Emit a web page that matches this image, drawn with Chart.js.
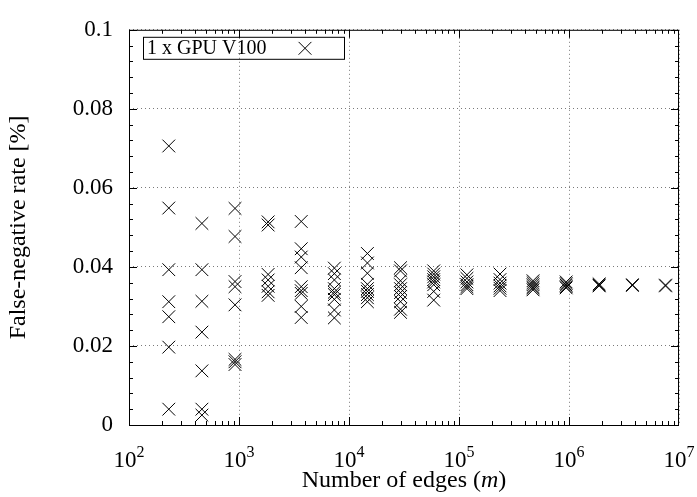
<!DOCTYPE html>
<html>
<head>
<meta charset="utf-8">
<script src="https://cdn.jsdelivr.net/npm/chart.js@4.4.0/dist/chart.umd.min.js"></script>
<style>
  html, body { margin: 0; padding: 0; background: #fff; }
  #wrap { width: 697px; height: 497px; }
</style>
</head>
<body>
<div id="wrap"><canvas id="chart"></canvas></div>
<script>
// Data
// ------------------------------------------------------------
const edgeCounts = [230, 460, 920, 1840, 3680, 7360, 14700, 29400, 58900,
                    118000, 236000, 471000, 942000, 1880000, 3770000, 7540000];

const rates = [
  [0.0706, 0.0549, 0.0393, 0.0312, 0.0274, 0.0197, 0.0040],
  [0.0510, 0.0393, 0.0313, 0.0235, 0.0137, 0.0040, 0.0025],
  [0.0548, 0.0477, 0.0363, 0.0350, 0.0304, 0.0166, 0.0160, 0.0153],
  [0.0514, 0.0506, 0.0381, 0.0367, 0.0351, 0.0337, 0.0328],
  [0.0515, 0.0446, 0.0425, 0.0398, 0.0350, 0.0340, 0.0333, 0.0300, 0.0272],
  [0.0397, 0.0383, 0.0367, 0.0345, 0.0336, 0.0330, 0.0318, 0.0291, 0.0271],
  [0.0434, 0.0410, 0.0384, 0.0356, 0.0345, 0.0338, 0.0330, 0.0322, 0.0312],
  [0.0398, 0.0390, 0.0365, 0.0355, 0.0345, 0.0335, 0.0325, 0.0312, 0.0293, 0.0285],
  [0.0390, 0.0382, 0.0375, 0.0368, 0.0362, 0.0355, 0.0338, 0.0316],
  [0.0380, 0.0371, 0.0362, 0.0355, 0.0350, 0.0345],
  [0.0382, 0.0368, 0.0359, 0.0352, 0.0346, 0.0340],
  [0.0365, 0.0360, 0.0355, 0.0350, 0.0346, 0.0342],
  [0.0362, 0.0358, 0.0354, 0.0350, 0.0347],
  [0.0357, 0.0354, 0.0352],
  [0.0355, 0.0353],
  [0.0354, 0.0352]
];

const xTickValues    = [1e2, 1e3, 1e4, 1e5, 1e6, 1e7];
const xTickExponents = ['2', '3', '4', '5', '6', '7'];
const yTickValues    = [0, 0.02, 0.04, 0.06, 0.08, 0.1];
const yTickLabels    = ['0', '0.02', '0.04', '0.06', '0.08', '0.1'];
const seriesLabel    = '1 x GPU V100';
const xTitleParts    = [['Number of edges (', false], ['m', true], [')', false]];

const FONT = '"Liberation Serif", "DejaVu Serif", serif';

const points = [];
edgeCounts.forEach((m, i) => rates[i].forEach(r => points.push({ x: m, y: r })));

// gnuplot-like frame: box, inward ticks, x labels with exponents, legend
// ------------------------------------------------------------
const frame = {
  id: 'frame',
  afterDraw(chart) {
    const { ctx, chartArea: a, scales: { x, y } } = chart;
    ctx.save();
    ctx.strokeStyle = '#000';
    ctx.lineWidth = 1;
    ctx.beginPath();

    const vtick = (v, len) => {
      const px = Math.round(x.getPixelForValue(v)) + 0.5;
      ctx.moveTo(px, a.bottom); ctx.lineTo(px, a.bottom - len);
      ctx.moveTo(px, a.top);    ctx.lineTo(px, a.top + len);
    };
    for (let e = 2; e < 7; e++) {
      for (let k = 1; k < 10; k++) vtick(k * Math.pow(10, e), k === 1 ? 8 : 4);
    }

    const htick = (v, len) => {
      const py = Math.round(y.getPixelForValue(v)) + 0.5;
      ctx.moveTo(a.left, py);  ctx.lineTo(a.left + len, py);
      ctx.moveTo(a.right, py); ctx.lineTo(a.right - len, py);
    };
    for (let i = 0; i <= 25; i++) htick(i * 0.004, i % 5 === 0 ? 8 : 4);
    ctx.stroke();

    ctx.strokeRect(a.left + 0.5, a.top + 0.5, a.right - a.left - 1, a.bottom - a.top);

    // x tick labels 10^n
    ctx.fillStyle = '#000';
    ctx.textBaseline = 'alphabetic';
    ctx.textAlign = 'left';
    xTickValues.forEach((v, i) => {
      const px = x.getPixelForValue(v);
      ctx.font = '23px ' + FONT;
      const w1 = ctx.measureText('10').width;
      ctx.font = '16px ' + FONT;
      const w2 = ctx.measureText(xTickExponents[i]).width;
      const x0 = px - (w1 + w2) / 2;
      ctx.font = '23px ' + FONT;
      ctx.fillText('10', x0, a.bottom + 42);
      ctx.font = '16px ' + FONT;
      ctx.fillText(xTickExponents[i], x0 + w1, a.bottom + 32);
    });

    // x title with italic m
    const fonts = xTitleParts.map(p => (p[1] ? 'italic ' : '') + '24px ' + FONT);
    const widths = xTitleParts.map((p, i) => { ctx.font = fonts[i]; return ctx.measureText(p[0]).width; });
    let tx = (a.left + a.right) / 2 - widths.reduce((s, w) => s + w, 0) / 2;
    xTitleParts.forEach((p, i) => {
      ctx.font = fonts[i];
      ctx.fillText(p[0], tx, chart.height - 10);
      tx += widths[i];
    });

    // legend box
    const lx = a.left + 14, ly = a.top + 7, lw = 201, lh = 22;
    ctx.strokeRect(lx + 0.5, ly + 0.5, lw, lh);
    ctx.font = '20px ' + FONT;
    ctx.textBaseline = 'middle';
    ctx.fillText(seriesLabel, lx + 4, ly + lh / 2 + 1);
    const cx = lx + 162, cy = ly + lh / 2 + 0.5, r = 6.4;
    ctx.beginPath();
    ctx.moveTo(cx - r, cy - r); ctx.lineTo(cx + r, cy + r);
    ctx.moveTo(cx - r, cy + r); ctx.lineTo(cx + r, cy - r);
    ctx.stroke();
    ctx.restore();
  }
};

new Chart(document.getElementById('chart'), {
  type: 'scatter',
  data: {
    datasets: [{
      label: seriesLabel,
      data: points,
      pointStyle: 'crossRot',
      pointRadius: 9,
      pointBorderWidth: 1,
      borderColor: '#000',
      backgroundColor: '#000'
    }]
  },
  options: {
    responsive: true,
    maintainAspectRatio: false,
    animation: false,
    layout: { padding: { top: 16, right: 18, left: 0, bottom: 0 } },
    plugins: {
      legend: { display: false },
      tooltip: { enabled: false }
    },
    scales: {
      x: {
        type: 'logarithmic',
        min: 1e2,
        max: 1e7,
        afterBuildTicks: s => { s.ticks = xTickValues.map(v => ({ value: v })); },
        afterFit: s => { s.height = 72; },
        ticks: { display: false },
        grid: { color: '#7a7a7a', lineWidth: 1, drawTicks: false },
        border: { display: false, dash: [1, 3] },
        title: { display: false }
      },
      y: {
        min: 0,
        max: 0.1,
        afterBuildTicks: s => { s.ticks = yTickValues.map(v => ({ value: v })); },
        afterFit: s => { s.width = 129; },
        ticks: {
          color: '#000',
          padding: 16,
          font: { family: FONT, size: 23 },
          callback: (v, i) => yTickLabels[i]
        },
        grid: { color: '#7a7a7a', lineWidth: 1, drawTicks: false },
        border: { display: false, dash: [1, 3] },
        title: {
          display: true,
          text: 'False-negative rate [%]',
          color: '#000',
          font: { family: FONT, size: 24 },
          padding: { top: 4, bottom: 0 }
        }
      }
    }
  },
  plugins: [frame]
});
</script>
</body>
</html>
